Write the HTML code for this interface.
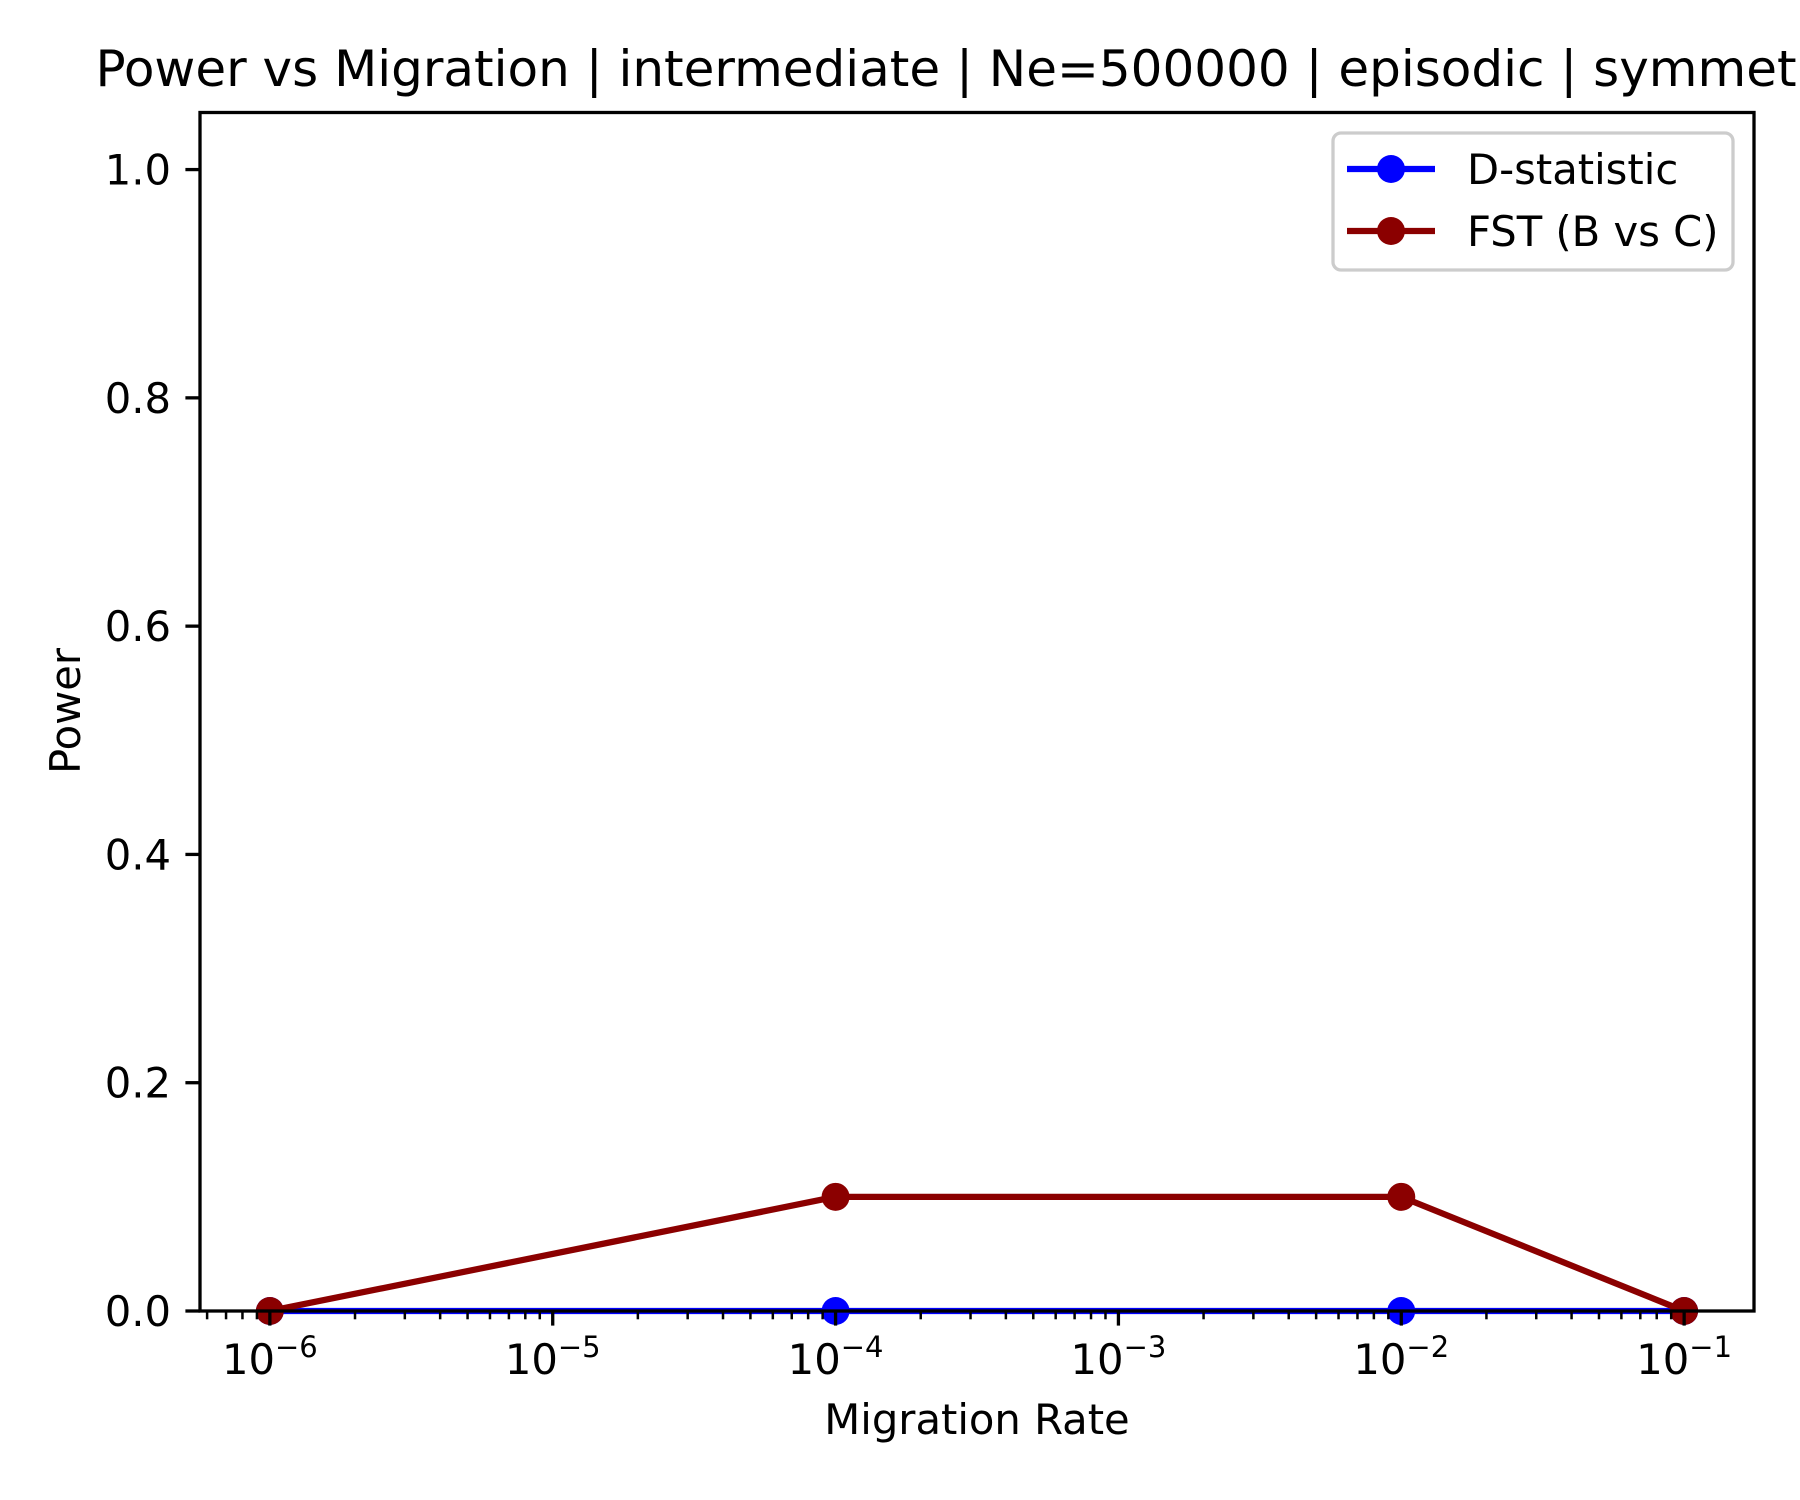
<!DOCTYPE html>
<html><head><meta charset="utf-8"><style>
body{margin:0;background:#fff}
svg{display:block;font-family:"DejaVu Sans","Liberation Sans",sans-serif}
</style></head><body>
<svg id="chart" width="1800" height="1500" viewBox="0 0 1800 1500">
<rect width="1800" height="1500" fill="#fff"/>
<text x="977" y="86" font-size="50" text-anchor="middle">Power vs Migration | intermediate | Ne=500000 | episodic | symmetric</text>
<g id="plot"></g>
<rect x="200" y="112.5" width="1554" height="1198.5" fill="none" stroke="#000" stroke-width="3.3"/>
<text x="977" y="1434" font-size="41.7" text-anchor="middle">Migration Rate</text>
<text transform="translate(80,711) rotate(-90)" font-size="41.7" text-anchor="middle">Power</text>
<g>
<rect x="1333" y="133" width="400" height="137" rx="8" fill="#fff" fill-opacity="0.8" stroke="#ccc" stroke-width="3.3"/>
<g>
<line x1="1347" y1="169" x2="1435" y2="169" stroke="#0000ff" stroke-width="6.25"/>
<circle cx="1391" cy="169" r="14" fill="#0000ff"/>
<text x="1467" y="184" font-size="41.7">D-statistic</text></g>
<g>
<line x1="1347" y1="231" x2="1435" y2="231" stroke="#8b0000" stroke-width="6.25"/>
<circle cx="1391" cy="231" r="14" fill="#8b0000"/>
<text x="1467" y="246" font-size="41.7">FST (B vs C)</text></g>
</g>
</svg>
<script>
const migrationRates=[1e-6,1e-4,1e-2,1e-1];
const dStatPower=[0,0,0,0];
const fstPower=[0,0.1,0.1,0];
const yTicks=[0,0.2,0.4,0.6,0.8,1.0];
const yTickLabels=["0.0","0.2","0.4","0.6","0.8","1.0"];
const xTickExps=[-6,-5,-4,-3,-2,-1];

const NS="http://www.w3.org/2000/svg";
const L=200,R=1754,T=112.5,B=1311;
const xmin=-6.247,xmax=-0.753,ymin=0,ymax=1.05;
function xs(v){return L+(Math.log10(v)-xmin)/(xmax-xmin)*(R-L);}
function ys(v){return B-(v-ymin)/(ymax-ymin)*(B-T);}
const svg=document.getElementById('chart');
const plot=document.getElementById('plot');
function mk(tag,attrs,parent){const e=document.createElementNS(NS,tag);for(const k in attrs)e.setAttribute(k,attrs[k]);(parent||svg).appendChild(e);return e;}

yTicks.forEach((v,i)=>{
 const y=ys(v);
 const t=mk('line',{x1:L-14.6,x2:L,y1:y,y2:y,stroke:'#000','stroke-width':3.3});
 
 
 const tx=mk('text',{x:L-29,y:y+15,'font-size':41.7,'text-anchor':'end'});
 tx.textContent=yTickLabels[i];
 
 
});
xTickExps.forEach(e=>{
 const x=xs(Math.pow(10,e));
 const t=mk('line',{x1:x,x2:x,y1:B,y2:B+14.6,stroke:'#000','stroke-width':3.3});
 
 
 const tx=mk('text',{x:x,y:1374,'font-size':41.7,'text-anchor':'middle'});
 tx.innerHTML='10<tspan dy="-17" font-size="29">\u2212'+Math.abs(e)+'</tspan>';
 
 
});
for(let e=-7;e<=-1;e++){for(let m=2;m<=9;m++){
 const v=m*Math.pow(10,e);const lv=Math.log10(v);
 if(lv<xmin||lv>xmax)continue;
 const x=xs(v);
 const t=mk('line',{x1:x,x2:x,y1:B,y2:B+8.3,stroke:'#000','stroke-width':2.5});
 
 
}}
function series(vals,color,name){
 const g=mk('g',{},plot);
 
 
 const pts=migrationRates.map((r,i)=>xs(r)+','+ys(vals[i])).join(' ');
 const pl=mk('polyline',{points:pts,fill:'none',stroke:color,'stroke-width':6.25,'stroke-linejoin':'round','stroke-linecap':'square'},g);
 
 
 migrationRates.forEach((r,i)=>{
  const c=mk('circle',{cx:xs(r),cy:ys(vals[i]),r:14,fill:color},g);
  
  
 });
}
series(dStatPower,'#0000ff','d-statistic-series');
series(fstPower,'#8b0000','fst-series');
const cp=mk('clipPath',{id:'clip'});
mk('rect',{x:L,y:T,width:R-L,height:B-T+15},cp);
plot.setAttribute('clip-path','url(#clip)');
</script>
</body></html>
